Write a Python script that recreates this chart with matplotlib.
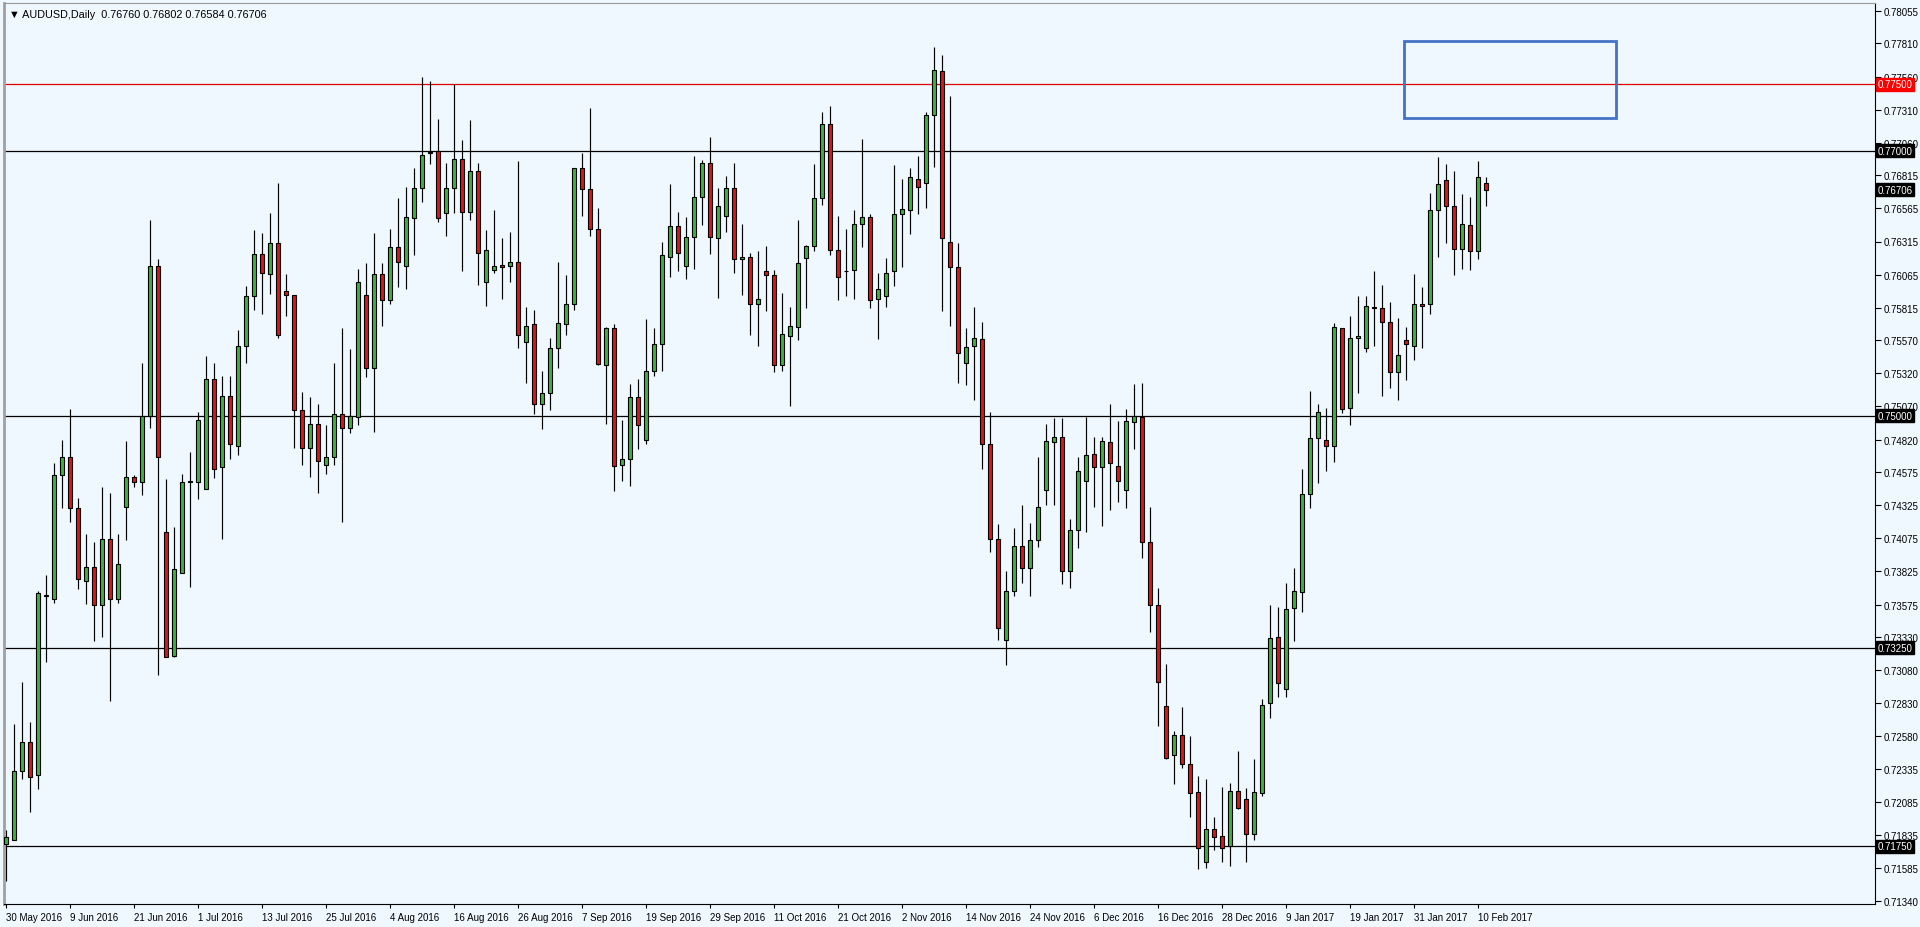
import matplotlib
matplotlib.use('Agg')
import matplotlib.pyplot as plt
from matplotlib.patches import Rectangle
import matplotlib.transforms as mtransforms

# ---------------- data ----------------
opens = [0.7177, 0.7180, 0.7232, 0.7254, 0.7229, 0.7364, 0.7362, 0.7455, 0.7469, 0.7430,
         0.7375, 0.7386, 0.7357, 0.7407, 0.7362, 0.7431, 0.7454, 0.7450, 0.7500, 0.7613,
         0.7412, 0.7319, 0.7381, 0.7450, 0.7450, 0.7445, 0.7528, 0.7461, 0.7515, 0.7477,
         0.7553, 0.7590, 0.7622, 0.7607, 0.7630, 0.7594, 0.7591, 0.7504, 0.7476, 0.7494,
         0.7463, 0.7469, 0.7501, 0.7491, 0.7499, 0.7591, 0.7536, 0.7607, 0.7587, 0.7627,
         0.7613, 0.7649, 0.7672, 0.7699, 0.7700, 0.7653, 0.7672, 0.7694, 0.7654, 0.7685,
         0.7601, 0.7610, 0.7614, 0.7613, 0.7616, 0.7556, 0.7569, 0.7509, 0.7517, 0.7551,
         0.7569, 0.7584, 0.7687, 0.7671, 0.7641, 0.7538, 0.7566, 0.7463, 0.7467, 0.7514,
         0.7482, 0.7534, 0.7554, 0.7620, 0.7643, 0.7613, 0.7635, 0.7665, 0.7691, 0.7634,
         0.7651, 0.7672, 0.7618, 0.7620, 0.7584, 0.7609, 0.7606, 0.7538, 0.7560, 0.7567,
         0.7619, 0.7628, 0.7664, 0.7720, 0.7625, 0.7609, 0.7610, 0.7645, 0.7650, 0.7588,
         0.7590, 0.7609, 0.7652, 0.7655, 0.7679, 0.7676, 0.7727, 0.7760, 0.7631, 0.7612,
         0.7540, 0.7553, 0.7558, 0.7479, 0.7407, 0.7331, 0.7368, 0.7402, 0.7385, 0.7406,
         0.7444, 0.7480, 0.7484, 0.7383, 0.7414, 0.7451, 0.7471, 0.7461, 0.7480, 0.7462,
         0.7444, 0.7495, 0.7499, 0.7405, 0.7357, 0.7281, 0.7244, 0.7259, 0.7237, 0.7216,
         0.7163, 0.7188, 0.7183, 0.7175, 0.7217, 0.7211, 0.7184, 0.7215, 0.7283, 0.7333,
         0.7294, 0.7355, 0.7367, 0.7441, 0.7483, 0.7482, 0.7477, 0.7566, 0.7506, 0.7559,
         0.7551, 0.7582, 0.7581, 0.7571, 0.7533, 0.7557, 0.7553, 0.7584, 0.7584, 0.7655,
         0.7678, 0.7658, 0.7626, 0.7644, 0.7624, 0.76760]
highs = [0.7187, 0.7267, 0.7299, 0.7269, 0.7368, 0.7380, 0.7464, 0.7482, 0.7505, 0.7438,
         0.7411, 0.7405, 0.7446, 0.7442, 0.7411, 0.7481, 0.7455, 0.7540, 0.7648, 0.7618,
         0.7452, 0.7416, 0.7456, 0.7473, 0.7503, 0.7545, 0.7540, 0.7530, 0.7530, 0.7565,
         0.7598, 0.7640, 0.7638, 0.7653, 0.7676, 0.7607, 0.7591, 0.7518, 0.7514, 0.7509,
         0.7493, 0.7540, 0.7566, 0.7550, 0.7611, 0.7615, 0.7638, 0.7615, 0.7641, 0.7664,
         0.7673, 0.7687, 0.7756, 0.7753, 0.7724, 0.7691, 0.7750, 0.7708, 0.7723, 0.7691,
         0.7640, 0.7655, 0.7634, 0.7639, 0.7692, 0.7582, 0.7580, 0.7534, 0.7559, 0.7616,
         0.7606, 0.7687, 0.7698, 0.7732, 0.7657, 0.7567, 0.7569, 0.7497, 0.7524, 0.7528,
         0.7573, 0.7566, 0.7631, 0.7675, 0.7654, 0.7650, 0.7696, 0.7693, 0.7710, 0.7672,
         0.7681, 0.7691, 0.7645, 0.7623, 0.7624, 0.7628, 0.7610, 0.7593, 0.7582, 0.7648,
         0.7629, 0.7690, 0.7729, 0.7734, 0.7651, 0.7641, 0.7655, 0.7709, 0.7652, 0.7608,
         0.7619, 0.7689, 0.7679, 0.7687, 0.7696, 0.7729, 0.7778, 0.7772, 0.7741, 0.7630,
         0.7566, 0.7582, 0.7571, 0.7503, 0.7418, 0.7383, 0.7415, 0.7433, 0.7419, 0.7469,
         0.7494, 0.7498, 0.7498, 0.7422, 0.7469, 0.7499, 0.7484, 0.7484, 0.7509, 0.7496,
         0.7505, 0.7524, 0.7525, 0.7431, 0.7370, 0.7313, 0.7262, 0.7280, 0.7258, 0.7228,
         0.7226, 0.7197, 0.7220, 0.7223, 0.7247, 0.7219, 0.7241, 0.7286, 0.7357, 0.7356,
         0.7374, 0.7385, 0.7460, 0.7519, 0.7509, 0.7506, 0.7570, 0.7566, 0.7575, 0.7590,
         0.7590, 0.7609, 0.7599, 0.7586, 0.7574, 0.7567, 0.7607, 0.7597, 0.7668, 0.7695,
         0.7690, 0.7685, 0.7667, 0.7665, 0.7692, 0.76802]
lows = [0.7149, 0.7180, 0.7226, 0.7201, 0.7218, 0.7314, 0.7359, 0.7430, 0.7420, 0.7369,
        0.7358, 0.7330, 0.7333, 0.7285, 0.7359, 0.7406, 0.7446, 0.7440, 0.7491, 0.7304,
        0.7318, 0.7318, 0.7381, 0.7371, 0.7437, 0.7445, 0.7453, 0.7407, 0.7467, 0.7470,
        0.7540, 0.7580, 0.7577, 0.7592, 0.7559, 0.7575, 0.7476, 0.7463, 0.7454, 0.7442,
        0.7456, 0.7463, 0.7420, 0.7487, 0.7493, 0.7529, 0.7488, 0.7568, 0.7584, 0.7597,
        0.7596, 0.7621, 0.7661, 0.7690, 0.7646, 0.7636, 0.7653, 0.7609, 0.7648, 0.7599,
        0.7583, 0.7608, 0.7588, 0.7601, 0.7551, 0.7525, 0.7501, 0.7490, 0.7504, 0.7536,
        0.7561, 0.7580, 0.7651, 0.7636, 0.7538, 0.7494, 0.7443, 0.7451, 0.7447, 0.7475,
        0.7479, 0.7530, 0.7534, 0.7605, 0.7609, 0.7603, 0.7611, 0.7644, 0.7622, 0.7589,
        0.7639, 0.7608, 0.7591, 0.7561, 0.7553, 0.7579, 0.7533, 0.7534, 0.7507, 0.7557,
        0.7581, 0.7624, 0.7659, 0.7621, 0.7587, 0.7590, 0.7588, 0.7627, 0.7581, 0.7558,
        0.7582, 0.7598, 0.7612, 0.7637, 0.7652, 0.7657, 0.7688, 0.7579, 0.7568, 0.7525,
        0.7523, 0.7512, 0.7460, 0.7397, 0.7331, 0.7312, 0.7364, 0.7374, 0.7364, 0.7401,
        0.7433, 0.7433, 0.7373, 0.7370, 0.7400, 0.7412, 0.7431, 0.7417, 0.7429, 0.7435,
        0.7430, 0.7475, 0.7393, 0.7337, 0.7266, 0.7241, 0.7222, 0.7234, 0.7197, 0.7158,
        0.7159, 0.7172, 0.7163, 0.7160, 0.7203, 0.7163, 0.7180, 0.7213, 0.7272, 0.7288,
        0.7288, 0.7330, 0.7352, 0.7430, 0.7449, 0.7458, 0.7465, 0.7502, 0.7493, 0.7517,
        0.7548, 0.7553, 0.7515, 0.7521, 0.7512, 0.7527, 0.7542, 0.7551, 0.7577, 0.7620,
        0.7630, 0.7606, 0.7611, 0.7610, 0.7618, 0.76584]
closes = [0.7182, 0.7232, 0.7254, 0.7227, 0.7366, 0.7365, 0.7455, 0.7469, 0.7430, 0.7377,
          0.7386, 0.7357, 0.7407, 0.7362, 0.7388, 0.7454, 0.7450, 0.7500, 0.7613, 0.7469,
          0.7318, 0.7384, 0.7450, 0.7451, 0.7497, 0.7528, 0.7460, 0.7515, 0.7479, 0.7553,
          0.7590, 0.7622, 0.7608, 0.7630, 0.7561, 0.7591, 0.7504, 0.7476, 0.7494, 0.7466,
          0.7469, 0.7501, 0.7491, 0.7500, 0.7601, 0.7536, 0.7607, 0.7587, 0.7627, 0.7616,
          0.7650, 0.7672, 0.7697, 0.7698, 0.7649, 0.7672, 0.7694, 0.7654, 0.7685, 0.7623,
          0.7625, 0.7613, 0.7612, 0.7616, 0.7561, 0.7568, 0.7509, 0.7517, 0.7551, 0.7570,
          0.7584, 0.7687, 0.7671, 0.7641, 0.7539, 0.7566, 0.7462, 0.7467, 0.7514, 0.7493,
          0.7534, 0.7554, 0.7621, 0.7643, 0.7623, 0.7635, 0.7665, 0.7691, 0.7635, 0.7658,
          0.7672, 0.7618, 0.7620, 0.7584, 0.7588, 0.7606, 0.7538, 0.7562, 0.7568, 0.7615,
          0.7628, 0.7664, 0.7720, 0.7625, 0.7605, 0.7609, 0.7645, 0.7650, 0.7587, 0.7596,
          0.7608, 0.7652, 0.7656, 0.7680, 0.7673, 0.7727, 0.7761, 0.7634, 0.7612, 0.7547,
          0.7552, 0.7559, 0.7479, 0.7407, 0.7340, 0.7368, 0.7402, 0.7385, 0.7406, 0.7431,
          0.7481, 0.7484, 0.7383, 0.7414, 0.7458, 0.7470, 0.7461, 0.7481, 0.7464, 0.7451,
          0.7496, 0.7500, 0.7405, 0.7357, 0.7299, 0.7242, 0.7259, 0.7237, 0.7215, 0.7174,
          0.7188, 0.7182, 0.7174, 0.7217, 0.7204, 0.7184, 0.7216, 0.7282, 0.7332, 0.7298,
          0.7354, 0.7368, 0.7441, 0.7483, 0.7503, 0.7477, 0.7567, 0.7505, 0.7559, 0.7560,
          0.7583, 0.7581, 0.7571, 0.7533, 0.7546, 0.7554, 0.7584, 0.7583, 0.7655, 0.7675,
          0.7658, 0.7626, 0.7645, 0.7624, 0.7680, 0.76706]

date_labels = ["30 May 2016", "9 Jun 2016", "21 Jun 2016", "1 Jul 2016", "13 Jul 2016",
               "25 Jul 2016", "4 Aug 2016", "16 Aug 2016", "26 Aug 2016", "7 Sep 2016",
               "19 Sep 2016", "29 Sep 2016", "11 Oct 2016", "21 Oct 2016", "2 Nov 2016",
               "14 Nov 2016", "24 Nov 2016", "6 Dec 2016", "16 Dec 2016", "28 Dec 2016",
               "9 Jan 2017", "19 Jan 2017", "31 Jan 2017", "10 Feb 2017"]
date_label_step = 8

price_ticks = [0.78055, 0.77810, 0.77560, 0.77310, 0.77060, 0.76815, 0.76565, 0.76315,
               0.76065, 0.75815, 0.75570, 0.75320, 0.75070, 0.74820, 0.74575, 0.74325,
               0.74075, 0.73825, 0.73575, 0.73330, 0.73080, 0.72830, 0.72580, 0.72335,
               0.72085, 0.71835, 0.71585, 0.71340]

black_levels = [0.77000, 0.75000, 0.73250, 0.71750]
red_level = 0.77500
last_close = closes[-1]
header = "\u25BC AUDUSD,Daily  0.76760 0.76802 0.76584 0.76706"

# target zone box (bar index range, price range)
zone_bars = (174.75, 201.25)
zone_prices = (0.77247, 0.77828)

# ---------------- style ----------------
BG = '#F0F8FF'
UP = '#3CB43C'
DOWN = '#E01414'
W, H = 1920, 928
FONT = ['Liberation Sans', 'DejaVu Sans']
plt.rcParams['font.family'] = FONT

fig = plt.figure(figsize=(W / 100, H / 100), dpi=100)
fig.patch.set_facecolor(BG)
left_px, right_px, top_px, bottom_px = 4, 1875, 4, 905
ax = fig.add_axes([left_px / W, (H - bottom_px) / H,
                   (right_px - left_px) / W, (bottom_px - top_px) / H])
ax.set_facecolor(BG)

n = len(opens)
xs = list(range(n))
ax.set_xlim(-0.25, (right_px - left_px) / 8 - 0.25)
ax.set_ylim(0.71315, 0.78115)

# level lines
for lv in black_levels:
    ax.axhline(lv, color='black', lw=0.9, zorder=1)
ax.axhline(red_level, color='#E00000', lw=0.9, zorder=1)

# candles
ax.vlines(xs, lows, highs, color='black', lw=0.85, zorder=2)
bottoms = [min(o, c) for o, c in zip(opens, closes)]
heights = [abs(c - o) for o, c in zip(opens, closes)]
colors = [UP if c >= o else DOWN for o, c in zip(opens, closes)]
ax.bar(xs, heights, bottom=bottoms, width=0.6, color=colors,
       edgecolor='black', linewidth=0.8, zorder=3)

# target zone
ax.add_patch(Rectangle((zone_bars[0], zone_prices[0]), zone_bars[1] - zone_bars[0],
                       zone_prices[1] - zone_prices[0], fill=False,
                       edgecolor='#4472C4', lw=2.0, zorder=4))

# axes decoration
ax.spines['top'].set_color('#9A9A9A')
ax.spines['top'].set_linewidth(0.8)
ax.spines['left'].set_color('#A0A0A0')
ax.spines['left'].set_linewidth(2)
ax.spines['right'].set_color('black')
ax.spines['bottom'].set_color('black')

ax.yaxis.tick_right()
ax.set_yticks(price_ticks)
ax.set_yticklabels([f"{p:.5f}" for p in price_ticks])
ax.tick_params(axis='y', direction='out', length=4, width=0.8, pad=2,
               labelsize=7, colors='black')

tick_pos = [i * date_label_step for i in range(len(date_labels))]
ax.set_xticks(tick_pos)
ax.set_xticklabels(date_labels)
ax.tick_params(axis='x', direction='out', length=3, width=0.8, pad=3,
               labelsize=7, colors='black')
for lbl in ax.get_xticklabels():
    lbl.set_horizontalalignment('left')

# highlighted price labels on the right
trans = mtransforms.blended_transform_factory(ax.transAxes, ax.transData)
def price_box(val, fc):
    ax.text(1.0015, val, f"{val:.5f}", transform=trans, fontsize=7, color='white',
            va='center', ha='left', zorder=10, clip_on=False,
            bbox=dict(boxstyle='square,pad=0.15', fc=fc, ec=fc))

price_box(red_level, '#FF0000')
for lv in black_levels:
    price_box(lv, 'black')
price_box(last_close, 'black')

ax.text(5 / (right_px - left_px), 1 - 6 / (bottom_px - top_px), header,
        transform=ax.transAxes, fontsize=7.8, va='top', ha='left', color='black',
        family=FONT)

fig.savefig('out.png', dpi=100, facecolor=BG)
